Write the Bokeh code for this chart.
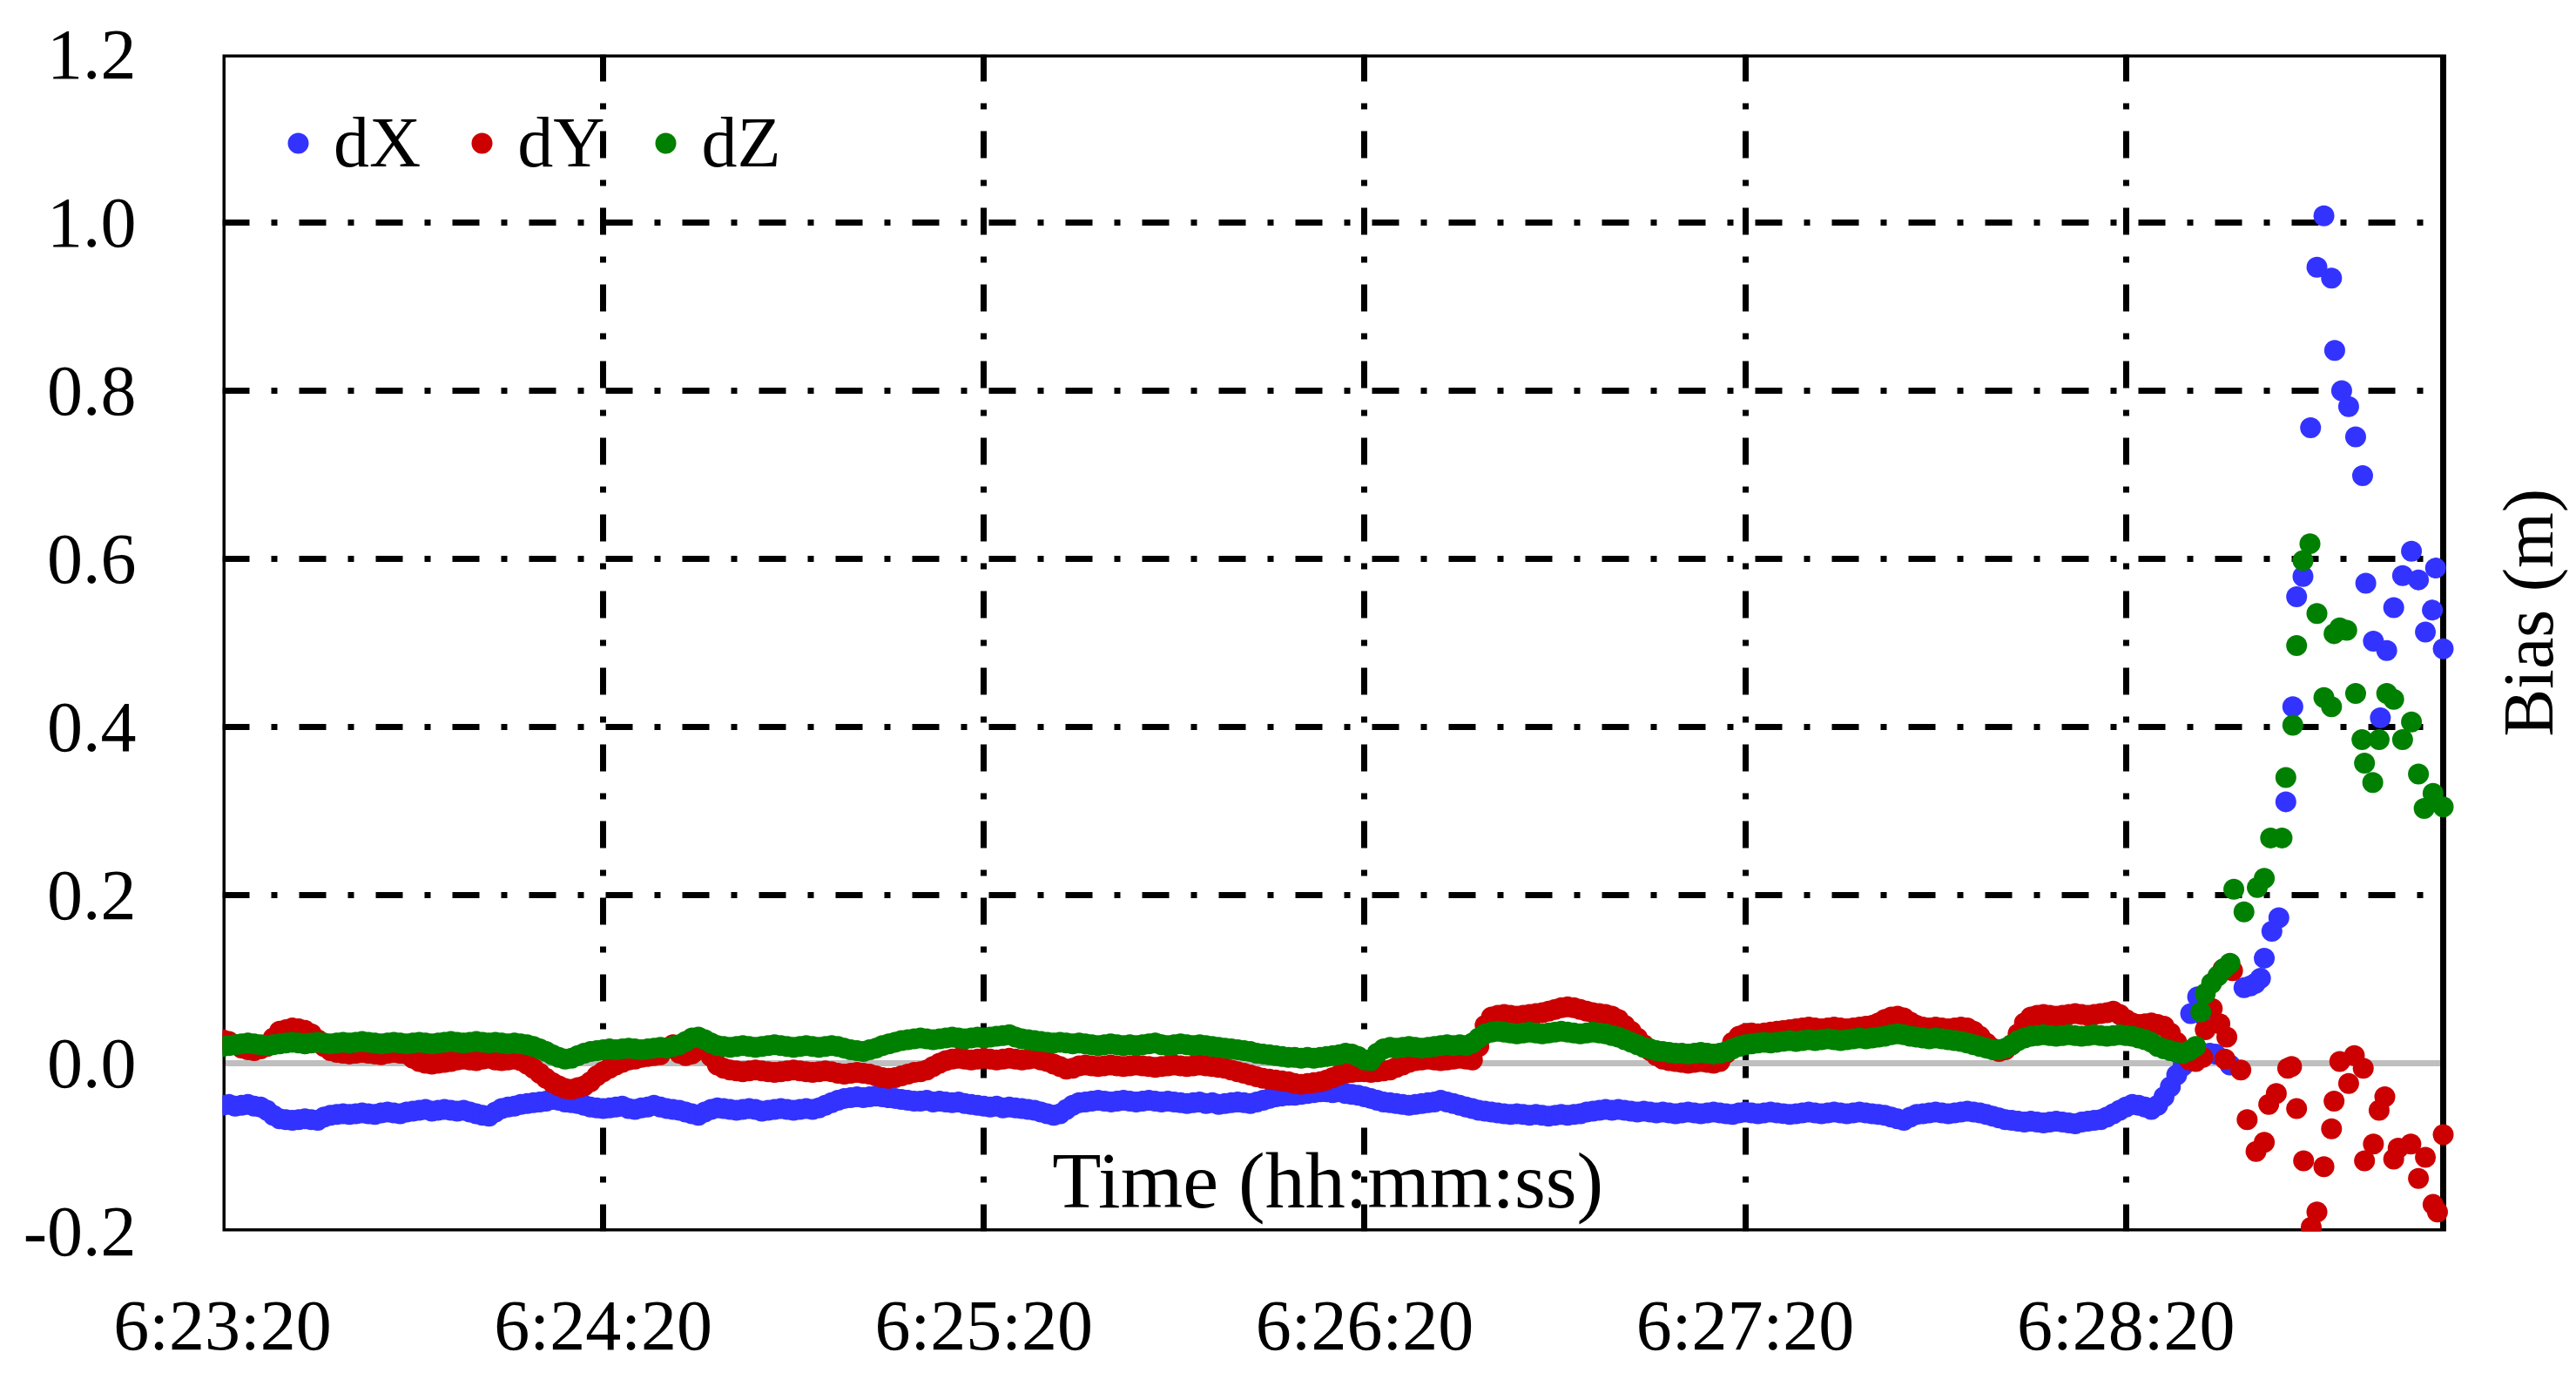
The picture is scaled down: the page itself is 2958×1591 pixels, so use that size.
from bokeh.plotting import figure
from bokeh.models import (Range1d, FixedTicker, NumeralTickFormatter, Label, Grid,
                          Legend, LegendItem, ColumnDataSource, BoxAnnotation)
from bokeh.embed import file_html
from bokeh.resources import INLINE

# ---------------- data ----------------
# time axis: seconds after 6:23:20
tick_seconds = [0, 60, 120, 180, 240, 300]
tick_labels = ["6:23:20", "6:24:20", "6:25:20", "6:26:20", "6:27:20", "6:28:20"]
y_ticks = [-0.2, 0.0, 0.2, 0.4, 0.6, 0.8, 1.0, 1.2]
t_start, t_end = 0, 350          # plotted time span (6:23:20 .. 6:29:10)
v_min, v_max = -0.2, 1.2

# 1 Hz samples from 6:23:20 (t = 0 s) to t = 307 s, values in millimetres
dx_flat_mm = [
    -50, -49, -51, -50, -49, -51, -52, -56, -62, -66,
    -67, -68, -67, -66, -67, -68, -64, -62, -61, -60,
    -61, -60, -59, -60, -61, -59, -58, -59, -60, -58,
    -57, -56, -55, -57, -56, -55, -56, -57, -56, -58,
    -60, -62, -63, -58, -54, -52, -51, -49, -48, -47,
    -46, -45, -43, -44, -46, -47, -48, -50, -52, -53,
    -54, -53, -52, -51, -54, -55, -53, -52, -50, -52,
    -54, -55, -56, -58, -60, -62, -58, -55, -53, -54,
    -55, -56, -55, -54, -55, -57, -56, -55, -54, -55,
    -56, -55, -54, -55, -53, -50, -47, -44, -42, -41,
    -40, -41, -40, -39, -40, -41, -42, -43, -44, -45,
    -45, -44, -46, -45, -46, -47, -46, -48, -49, -50,
    -51, -52, -51, -53, -52, -53, -54, -55, -56, -58,
    -60, -62, -60, -55, -50, -47, -46, -45, -44, -45,
    -46, -45, -44, -45, -46, -45, -44, -45, -46, -45,
    -46, -47, -48, -47, -46, -48, -47, -49, -48, -47,
    -46, -47, -48, -46, -44, -42, -40, -39, -38, -38,
    -37, -36, -35, -34, -34, -35, -34, -36, -37, -38,
    -40, -42, -44, -46, -47, -48, -49, -50, -49, -48,
    -47, -46, -44, -46, -48, -50, -52, -54, -56, -57,
    -58, -59, -60, -61, -60, -61, -62, -61, -62, -63,
    -62, -61, -62, -61, -60, -58, -57, -56, -55, -56,
    -55, -56, -57, -58, -57, -58, -59, -58, -59, -60,
    -59, -58, -59, -60, -59, -58, -59, -60, -61, -59,
    -58, -59, -60, -59, -58, -59, -60, -61, -60, -59,
    -58, -59, -60, -59, -58, -59, -60, -59, -58, -59,
    -60, -61, -62, -64, -66, -68, -64, -61, -60, -59,
    -58, -59, -60, -59, -58, -57, -58, -59, -61, -63,
    -65, -67, -68, -69, -70, -69, -70, -71, -70, -69,
    -70, -71, -72, -70, -69, -68, -67, -64, -60, -56,
    -52, -49, -50, -52, -55, -50, -40, -28,
]
dy_flat_mm = [
    28, 26, 22, 18, 16, 15, 17, 20, 30, 38,
    40, 42, 41, 39, 35, 28, 20, 15, 13, 12,
    11, 12, 13, 12, 11, 10, 12, 13, 12, 11,
    6, 2, 0, -1, 0, 1, 2, 4, 5, 4,
    3, 5, 6, 4, 3, 4, 5, 3, -1, -6,
    -12, -18, -23, -27, -30, -31, -29, -27, -22, -15,
    -10, -6, -2, 1, 4, 5, 7, 8, 9, 10,
    18, 22, 12, 9, 11, 16, 20, 8, -2, -6,
    -8, -9, -10, -9, -8, -9, -10, -11, -10, -9,
    -8, -9, -10, -11, -10, -9, -10, -12, -13, -12,
    -11, -12, -13, -15, -17, -18, -17, -15, -13, -11,
    -10, -8, -4, 0, 3, 5, 6, 5, 4, 5,
    6, 5, 4, 5, 6, 5, 4, 5, 6, 4,
    2, -1, -4, -7, -6, -3, -2, -3, -4, -3,
    -2, -3, -4, -3, -2, -3, -4, -5, -4, -3,
    -2, -3, -4, -3, -2, -3, -4, -5, -6, -8,
    -10, -12, -14, -16, -18, -19, -20, -21, -22, -24,
    -25, -24, -23, -22, -20, -17, -14, -12, -11, -10,
    -10, -11, -10, -9, -8, -5, -2, 1, 3, 4,
    5, 4, 3, 4, 5, 6, 5, 4, 20, 45,
    55, 57, 58, 57, 56, 57, 58, 59, 60, 62,
    64, 66, 67, 66, 64, 62, 60, 59, 58, 56,
    52, 45, 38, 30, 22, 15, 9, 5, 3, 2,
    1, 0, 1, 2, 1, 0, 2, 12, 25, 32,
    35, 36, 35, 36, 37, 38, 39, 40, 41, 42,
    43, 42, 41, 42, 43, 42, 41, 42, 43, 44,
    45, 48, 52, 55, 56, 54, 49, 45, 43, 42,
    43, 42, 41, 42, 43, 42, 38, 32, 24, 18,
    14, 16, 22, 35, 48, 55, 57, 58, 57, 56,
    57, 58, 59, 58, 57, 58, 59, 60, 62, 58,
    52, 48, 46, 47, 48, 46, 44, 36,
]
dz_flat_mm = [
    20, 21, 22, 23, 24, 23, 22, 21, 22, 23,
    24, 25, 24, 23, 24, 25, 24, 23, 24, 25,
    24, 25, 26, 25, 24, 23, 24, 25, 24, 23,
    24, 25, 24, 23, 24, 25, 26, 25, 24, 25,
    26, 25, 24, 25, 24, 23, 24, 23, 22, 20,
    17, 14, 10, 7, 5, 6, 9, 12, 14, 15,
    16, 17, 16, 17, 18, 17, 16, 17, 18, 19,
    18, 20, 22, 26, 30, 31, 28, 24, 21, 20,
    19, 20, 21, 20, 19, 20, 21, 22, 21, 20,
    19, 20, 21, 20, 19, 20, 21, 20, 18, 16,
    15, 14, 16, 18, 21, 23, 25, 27, 28, 29,
    30, 29, 28, 29, 30, 31, 30, 29, 30, 31,
    30, 31, 32, 33, 34, 31, 29, 28, 27, 26,
    25, 24, 25, 24, 23, 24, 23, 22, 21, 22,
    23, 22, 21, 22, 21, 22, 23, 24, 22, 21,
    22, 23, 22, 21, 22, 21, 20, 19, 18, 17,
    16, 15, 14, 12, 11, 10, 9, 8, 7, 7,
    6, 7, 6, 7, 8, 9, 10, 12, 11, 8,
    4, 3, 12, 17, 19, 18, 19, 20, 19, 18,
    19, 20, 21, 22, 21, 22, 21, 24, 30, 35,
    37, 38, 37, 36, 35, 36, 37, 36, 35, 36,
    37, 38, 37, 36, 35, 36, 37, 36, 35, 33,
    31, 28, 25, 22, 19, 17, 15, 14, 13, 12,
    12, 11, 12, 13, 12, 11, 12, 14, 17, 20,
    22, 23, 24, 25, 24, 25, 26, 27, 26, 27,
    28, 27, 28, 29, 28, 27, 28, 29, 30, 29,
    30, 31, 32, 34, 35, 34, 32, 31, 30, 29,
    30, 29, 28, 27, 26, 24, 22, 20, 18, 16,
    16, 18, 22, 27, 30, 32, 33, 34, 33, 32,
    33, 34, 33, 32, 33, 34, 33, 32, 33, 34,
    33, 32, 30, 28, 25, 20, 17, 15,
]

# divergence after ~6:28:28 (time in s, value in m)
dx_tail_t = [308, 309, 310.2, 311.3, 312.0, 313.2, 314.1, 316.4, 318.6, 319.6, 320.4,
             321.2, 321.8, 323.0, 324.1, 325.2, 326.3, 326.9, 327.9, 329.1, 330.1,
             331.2, 332.4, 332.9, 334.0, 335.1, 336.2, 337.3, 337.8, 339.0, 340.1,
             341.1, 342.2, 343.6, 345.0, 346.1, 347.2, 348.3, 348.8, 350.0]
dx_tail_v = [-0.014, -0.003, 0.059, 0.079, 0.058, 0.012, 0.011, -0.002, 0.090, 0.092, 0.095,
             0.101, 0.125, 0.157, 0.173, 0.311, 0.424, 0.555, 0.579, 0.756, 0.947,
             1.008, 0.934, 0.848, 0.800, 0.781, 0.745, 0.699, 0.571, 0.502, 0.411,
             0.491, 0.542, 0.580, 0.609, 0.575, 0.513, 0.539, 0.589, 0.493]

dy_tail_t = [308, 309, 310, 311, 312.1, 312.5, 313.6, 314.8, 315.3, 315.6, 315.9,
             316.8, 318.1, 319.1, 320.5, 321.8, 322.5, 323.7, 325.5, 326.1, 326.9,
             328.0, 329.2, 330.1, 331.2, 332.4, 332.8, 333.7, 335.1, 336.0, 337.4,
             337.6, 339.0, 339.9, 340.8, 342.2, 342.9, 344.9, 346.1, 347.2, 348.4,
             349.1, 350.0]
dy_tail_v = [0.025, 0.012, 0.004, 0.002, 0.007, 0.040, 0.065, 0.047, 0.112, 0.005, 0.031,
             0.110, -0.008, -0.067, -0.105, -0.094, -0.049, -0.036, -0.006, -0.004, -0.054,
             -0.116, -0.195, -0.177, -0.123, -0.078, -0.045, 0.002, -0.024, 0.009, -0.006,
             -0.116, -0.096, -0.056, -0.040, -0.114, -0.101, -0.096, -0.137, -0.112, -0.168,
             -0.177, -0.085]

dz_tail_t = [308, 309, 310, 311, 311.8, 312.5, 313.5, 314.5, 315.5, 316.4, 317.0,
             318.6, 320.7, 321.8, 322.8, 324.6, 325.2, 326.3, 326.9, 327.9, 329.0,
             330.1, 331.2, 332.4, 332.8, 333.7, 334.8, 336.2, 337.2, 337.6, 338.9,
             339.9, 341.1, 342.2, 343.6, 345.0, 346.1, 347.0, 348.4, 350.0]
dz_tail_v = [0.013, 0.012, 0.015, 0.020, 0.061, 0.083, 0.095, 0.104, 0.113, 0.119, 0.207,
             0.180, 0.209, 0.220, 0.268, 0.268, 0.340, 0.402, 0.497, 0.598, 0.618,
             0.535, 0.435, 0.424, 0.511, 0.518, 0.515, 0.440, 0.385, 0.357, 0.334,
             0.385, 0.440, 0.433, 0.385, 0.406, 0.344, 0.303, 0.321, 0.305]

series_names = ["dX", "dY", "dZ"]
series_colors = ["#3333FF", "#CC0000", "#008000"]


def build(flat_mm, tail_t, tail_v):
    t = list(range(len(flat_mm))) + list(tail_t)
    v = [m / 1000.0 for m in flat_mm] + list(tail_v)
    return ColumnDataSource(dict(t=t, v=v))


sources = [build(dx_flat_mm, dx_tail_t, dx_tail_v),
           build(dy_flat_mm, dy_tail_t, dy_tail_v),
           build(dz_flat_mm, dz_tail_t, dz_tail_v)]

# ---------------- figure ----------------
FONT = "Liberation Serif"
W, H = 2950, 1583
LEFT, TOP, BOTTOM = 255, 62, 170
BOX_W = 2550                       # pixel width of the boxed plotting area
# the drawing frame runs on to the right page edge so the rotated y title fits inside it
x_frame_end = t_start + (t_end - t_start) * (W - LEFT) / BOX_W

p = figure(width=W, height=H, output_backend="svg", toolbar_location=None,
           x_range=Range1d(t_start, x_frame_end), y_range=Range1d(v_min, v_max),
           min_border_left=LEFT, min_border_right=0, min_border_top=TOP,
           min_border_bottom=BOTTOM)
p.background_fill_color = "white"
p.border_fill_color = "white"
p.outline_line_color = None

# axes
p.xaxis.ticker = FixedTicker(ticks=tick_seconds)
p.xaxis.major_label_overrides = {s: lab for s, lab in zip(tick_seconds, tick_labels)}
p.yaxis.ticker = FixedTicker(ticks=y_ticks)
p.yaxis.formatter = NumeralTickFormatter(format="0.0")
for ax in (p.xaxis[0], p.yaxis[0]):
    ax.axis_line_color = None
    ax.major_tick_line_color = None
    ax.minor_tick_line_color = None
    ax.major_tick_out = 0
    ax.major_label_text_font = FONT
    ax.major_label_text_font_size = "82px"
    ax.major_label_text_color = "black"
p.xaxis.major_label_standoff = 62
p.yaxis.major_label_standoff = 99

# grids (dash-dot)
p.xgrid.ticker = FixedTicker(ticks=tick_seconds[1:])
p.ygrid.ticker = FixedTicker(ticks=[0.2, 0.4, 0.6, 0.8, 1.0])
for g in (p.xgrid[0], p.ygrid[0]):
    g.grid_line_color = "black"
    g.grid_line_width = 7
    g.grid_line_dash = "31 25 7 25"

# grey zero line
p.add_layout(Grid(dimension=1, ticker=FixedTicker(ticks=[0.0]),
                  grid_line_color="#BFBFBF", grid_line_width=7))

# white margin right of the boxed area (hides grid ends there)
p.add_layout(BoxAnnotation(left=t_end, fill_color="white", fill_alpha=1.0,
                           line_alpha=0, level="underlay"))
# plot-area border
p.add_layout(BoxAnnotation(left=t_start, right=t_end, bottom=v_min, top=v_max,
                           fill_alpha=0, line_color="black", line_alpha=1.0,
                           line_width=7, level="underlay"))

# data
items = []
for src, name, col in zip(sources, series_names, series_colors):
    r = p.scatter("t", "v", source=src, size=24, fill_color=col, line_color=None)
    items.append(LegendItem(label=name, renderers=[r]))

legend = Legend(items=items, orientation="horizontal", location=(57, 1202),
                glyph_width=60, glyph_height=60, label_standoff=11, spacing=40,
                padding=0, margin=0, background_fill_alpha=0, border_line_color=None,
                label_text_font=FONT, label_text_font_size="82px", label_text_color="black")
p.add_layout(legend)

# axis titles, placed where the original has them
p.add_layout(Label(x=174.2, y=-0.139, text="Time (hh:mm:ss)", text_align="center",
                   text_baseline="alphabetic", text_font=FONT, text_font_size="92px",
                   text_color="black"))
p.add_layout(Label(x=363.4, y=0.536, text="Bias (m)", angle=90, angle_units="deg",
                   text_align="center", text_baseline="middle", text_font=FONT,
                   text_font_size="82px", text_color="black"))

open("out.html", "w").write(file_html(p, INLINE))
